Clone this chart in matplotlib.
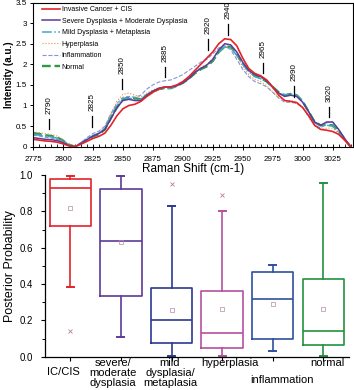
import matplotlib
matplotlib.use("Agg")
import matplotlib.pyplot as plt
from matplotlib.ticker import MultipleLocator
import numpy as np

plt.rcParams["font.family"] = ["Liberation Sans", "DejaVu Sans"]

# ---- top panel: mean Raman spectra ----
SHIFT = list(range(2775, 3045, 5))

INVASIVE = [0.18, 0.16, 0.14, 0.13, 0.11, 0.07, 0.02, 0.00, 0.06, 0.13,
            0.20, 0.25, 0.33, 0.52, 0.75, 0.92, 1.00, 1.03, 1.10, 1.22,
            1.32, 1.40, 1.45, 1.45, 1.50, 1.58, 1.70, 1.85, 2.00, 2.15,
            2.30, 2.50, 2.62, 2.60, 2.45, 2.15, 1.90, 1.78, 1.72, 1.62,
            1.45, 1.25, 1.12, 1.10, 1.07, 0.95, 0.75, 0.52, 0.42, 0.40,
            0.37, 0.30, 0.16, 0.00]
SEVERE = [0.22, 0.20, 0.18, 0.17, 0.15, 0.10, 0.03, 0.00, 0.08, 0.17,
          0.26, 0.32, 0.42, 0.68, 0.95, 1.12, 1.15, 1.12, 1.12, 1.25,
          1.35, 1.42, 1.45, 1.45, 1.48, 1.55, 1.65, 1.80, 1.90, 1.98,
          2.12, 2.35, 2.50, 2.47, 2.30, 2.05, 1.85, 1.75, 1.70, 1.60,
          1.45, 1.30, 1.22, 1.25, 1.22, 1.08, 0.85, 0.60, 0.52, 0.60,
          0.60, 0.42, 0.20, 0.00]
MILD = [0.30, 0.28, 0.26, 0.24, 0.21, 0.14, 0.04, 0.00, 0.09, 0.19,
        0.27, 0.33, 0.45, 0.75, 1.00, 1.15, 1.18, 1.15, 1.15, 1.27,
        1.35, 1.40, 1.42, 1.42, 1.47, 1.55, 1.67, 1.80, 1.90, 1.98,
        2.10, 2.30, 2.42, 2.40, 2.22, 2.00, 1.82, 1.70, 1.65, 1.57,
        1.44, 1.30, 1.25, 1.28, 1.25, 1.10, 0.85, 0.58, 0.50, 0.52,
        0.50, 0.36, 0.17, 0.00]
HYPER = [0.36, 0.34, 0.32, 0.30, 0.26, 0.17, 0.06, 0.00, 0.08, 0.18,
         0.26, 0.33, 0.48, 0.80, 1.10, 1.27, 1.30, 1.25, 1.20, 1.30,
         1.38, 1.43, 1.45, 1.45, 1.50, 1.58, 1.70, 1.82, 1.92, 2.00,
         2.15, 2.35, 2.45, 2.40, 2.20, 1.95, 1.75, 1.63, 1.58, 1.48,
         1.33, 1.20, 1.12, 1.12, 1.08, 0.95, 0.72, 0.50, 0.42, 0.45,
         0.45, 0.33, 0.15, 0.00]
INFLAM = [0.28, 0.26, 0.23, 0.21, 0.18, 0.12, 0.04, 0.00, 0.10, 0.22,
          0.32, 0.38, 0.50, 0.80, 1.05, 1.20, 1.22, 1.20, 1.25, 1.40,
          1.50, 1.57, 1.60, 1.62, 1.68, 1.75, 1.85, 1.95, 2.05, 2.12,
          2.25, 2.40, 2.45, 2.35, 2.12, 1.88, 1.70, 1.58, 1.53, 1.45,
          1.32, 1.18, 1.08, 1.08, 1.05, 0.95, 0.75, 0.52, 0.45, 0.58,
          0.60, 0.42, 0.20, 0.00]
NORMAL = [0.33, 0.31, 0.28, 0.26, 0.23, 0.15, 0.05, 0.00, 0.08, 0.17,
          0.25, 0.30, 0.42, 0.70, 0.95, 1.15, 1.20, 1.18, 1.15, 1.25,
          1.33, 1.40, 1.42, 1.42, 1.48, 1.55, 1.65, 1.78, 1.88, 1.95,
          2.08, 2.30, 2.43, 2.42, 2.25, 2.02, 1.85, 1.72, 1.67, 1.58,
          1.45, 1.32, 1.25, 1.28, 1.25, 1.10, 0.85, 0.60, 0.52, 0.53,
          0.52, 0.38, 0.18, 0.00]

SPECTRA_LABELS = ["Invasive Cancer + CIS", "Severe Dysplasia + Moderate Dysplasia",
                  "Mild Dysplasia + Metaplasia", "Hyperplasia", "Inflammation",
                  "Normal"]

PEAK_TEXT = ["2790", "2825", "2850", "2885", "2920", "2940", "2965", "2990", "3020"]
PEAK_X = [2788, 2824, 2849, 2885, 2921, 2938, 2967, 2993, 3022]
PEAK_Y = [0.42, 0.49, 1.39, 1.68, 2.35, 2.71, 1.78, 1.21, 0.71]

# ---- bottom panel: posterior probability box plots ----
GROUPS = ["IC/CIS", "severe/\nmoderate\ndysplasia", "mild\ndysplasia/\nmetaplasia",
          "hyperplasia", "inflammation", "normal"]
WHISK_LO = [0.385, 0.11, 0.005, 0.005, 0.03, 0.005]
Q1 = [0.72, 0.335, 0.075, 0.05, 0.095, 0.065]
MEDIAN = [0.93, 0.635, 0.20, 0.13, 0.32, 0.14]
Q3 = [0.98, 0.925, 0.38, 0.36, 0.465, 0.425]
WHISK_HI = [0.995, 0.995, 0.83, 0.80, 0.505, 0.955]
MEAN = [0.82, 0.63, 0.255, 0.265, 0.29, 0.265]
OUTLIERS = [[0.14], [], [0.95], [0.89], [], []]

fig = plt.figure(figsize=(3.54, 3.90), dpi=100)

# top panel
ax1 = fig.add_axes([33 / 354, 1 - 146.7 / 390, 320 / 354, 144.2 / 390])
styles = [
    dict(color="#e3232a", lw=1.2, ls="-"),
    dict(color="#5a3c98", lw=1.1, ls="-"),
    dict(color="#3fa9c4", lw=1.1, ls="-."),
    dict(color="#f08c3c", lw=0.8, ls=":"),
    dict(color="#7f98d4", lw=0.8, ls="--"),
    dict(color="#2c9a48", lw=1.7, ls="--"),
]
series = [INVASIVE, SEVERE, MILD, HYPER, INFLAM, NORMAL]
# draw back to front so the cancer curve sits on top
for vals, lab, st in reversed(list(zip(series, SPECTRA_LABELS, styles))):
    ax1.plot(SHIFT, vals, label=lab, **st)

for txt, px, py in zip(PEAK_TEXT, PEAK_X, PEAK_Y):
    ax1.plot([px, px], [py, py + 0.26], color="black", lw=0.9)
    ax1.text(px, py + 0.38, txt, rotation=90, ha="center", va="bottom",
             fontsize=5.8)

ax1.set_xlim(2775, 3042)
ax1.set_ylim(0, 3.5)
ax1.xaxis.set_major_locator(MultipleLocator(25))
ax1.xaxis.set_minor_locator(MultipleLocator(5))
ax1.set_yticks([0, 0.5, 1, 1.5, 2, 2.5, 3, 3.5])
ax1.set_yticklabels(["0", "0.5", "1", "1.5", "2", "2.5", "3", "3.5"])
ax1.tick_params(axis="x", which="major", direction="inout", length=4,
                width=0.7, labelsize=5.8, pad=4.5)
ax1.tick_params(axis="x", which="minor", direction="in", length=2, width=0.6)
ax1.tick_params(axis="y", which="major", direction="out", length=2.5,
                width=0.7, labelsize=5.8, pad=2)
for sp in ax1.spines.values():
    sp.set_linewidth(0.8)
ax1.set_xlabel("Raman Shift (cm-1)", fontsize=8.5, labelpad=0)
ax1.set_ylabel("Intensity (a.u.)", fontsize=7, fontweight="bold", labelpad=1)

handles, labels = ax1.get_legend_handles_labels()
ax1.legend(handles[::-1], labels[::-1], loc="upper left",
           bbox_to_anchor=(0.027, 0.975), frameon=False, fontsize=5.0,
           handlelength=2.6, handletextpad=0.3, labelspacing=0.65,
           borderpad=0, borderaxespad=0)

# bottom panel
ax2 = fig.add_axes([45 / 354, 1 - 356.7 / 390, 303.6 / 354, 181.7 / 390])
colors = ["#e3232a", "#5d3b97", "#2b3990", "#b5509e", "#2f4f9f", "#25913f"]
positions = np.arange(1, len(GROUPS) + 1)
stats = []
for i in range(len(GROUPS)):
    stats.append(dict(whislo=WHISK_LO[i], q1=Q1[i], med=MEDIAN[i], q3=Q3[i],
                      whishi=WHISK_HI[i], mean=MEAN[i], fliers=OUTLIERS[i]))

for i, st in enumerate(stats):
    c = colors[i]
    ax2.bxp([st], positions=[positions[i]], widths=0.82, showmeans=True,
            capwidths=0.14,
            boxprops=dict(color=c, lw=1.2),
            whiskerprops=dict(color=c, lw=1.2),
            capprops=dict(color=c, lw=1.4),
            medianprops=dict(color=c, lw=1.2),
            meanprops=dict(marker="s", markersize=2.5, markerfacecolor="none",
                           markeredgecolor="#b48aa8", markeredgewidth=0.5),
            flierprops=dict(marker="x", markersize=2.5, markeredgecolor="#c07a9a",
                            markeredgewidth=0.6))

ax2.set_xlim(0.5, 6.5)
ax2.set_ylim(0, 1.0)
ax2.set_yticks(np.arange(0, 1.01, 0.2))
ax2.set_yticklabels([f"{v:.1f}" for v in np.arange(0, 1.01, 0.2)])
ax2.yaxis.set_minor_locator(MultipleLocator(0.1))
ax2.set_xticks(positions)
ax2.set_xticklabels([])
ax2.tick_params(axis="y", which="major", direction="out", length=3,
                width=0.8, labelsize=6.9, pad=6)
ax2.tick_params(axis="y", which="minor", direction="out", length=2, width=0.7)
ax2.tick_params(axis="x", direction="out", length=3, width=0.8)
ax2.spines["top"].set_visible(False)
ax2.spines["right"].set_visible(False)
ax2.spines["left"].set_linewidth(0.9)
ax2.spines["bottom"].set_linewidth(0.9)
ax2.set_ylabel("Posterior Probability", fontsize=8.9, labelpad=2)

label_dx = [-0.14, -0.16, -0.03, 0.16, 0.18, 0.09]
label_y = [-0.084, -0.09, -0.09, -0.035, -0.128, -0.035]
for i, g in enumerate(GROUPS):
    ax2.text(positions[i] + label_dx[i], label_y[i], g,
             transform=ax2.get_xaxis_transform(), ha="center", va="center",
             fontsize=8, linespacing=0.95)

fig.savefig("out.png", dpi=100)
